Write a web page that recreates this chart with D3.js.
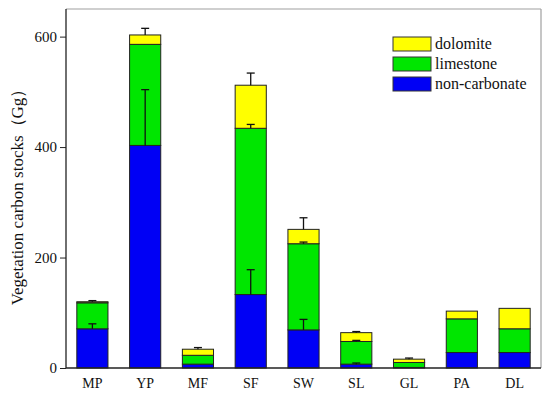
<!DOCTYPE html>
<html>
<head>
<meta charset="utf-8">
<script src="https://cdn.jsdelivr.net/npm/d3@7"></script>
<style>
  body { margin: 0; background: #fff; }
  text { font-family: "Liberation Serif", "Times New Roman", serif; }
</style>
</head>
<body>
<script>
var categories = ["MP","YP","MF","SF","SW","SL","GL","PA","DL"],
    nonCarbonate = [71, 403, 7, 133, 69, 7, 1, 28, 28],
    limestone = [47, 183, 16, 301, 156, 41, 9, 61, 43],
    dolomite = [2, 17, 11, 78, 26, 16, 6, 14, 37],
    errNonCarbonate = [9, 101, 0, 45, 19, 2, 0, 0, 0],
    errLimestone = [0, 0, 0, 7, 3, 2, 0, 0, 0],
    errDolomite = [2, 12, 3, 22, 21, 2, 2, 0, 0],
    yTicks = [0, 200, 400, 600],
    seriesNames = ["non-carbonate", "limestone", "dolomite"],
    colors = ["#0000f5", "#00e600", "#ffff00"];

var width = 550,
    height = 396,
    mLeft = 66, mRight = 541, mTop = 9, mBottom = 368;

var rows = categories.map(function(c, i) {
  return {cat: c, "non-carbonate": nonCarbonate[i], limestone: limestone[i], dolomite: dolomite[i]};
});
var errs = [errNonCarbonate, errLimestone, errDolomite];

var xSc = d3.scaleBand()
  .domain(categories)
  .range([mLeft, mRight])
  .paddingInner(0.41)
  .paddingOuter(0.205);

var ySc = d3.scaleLinear()
  .domain([0, 650])
  .range([mBottom, mTop]);

var stack = d3.stack().keys(seriesNames);
var layers = stack(rows);

var svg = d3.select("body").append("svg")
  .attr("width", width)
  .attr("height", height);

// frame (top and right in grey)
svg.append("line").attr("x1", mLeft).attr("x2", mRight).attr("y1", mTop).attr("y2", mTop)
  .attr("stroke", "#a0a0a0").attr("stroke-width", 1.2);
svg.append("line").attr("x1", mRight).attr("x2", mRight).attr("y1", mTop).attr("y2", mBottom)
  .attr("stroke", "#a0a0a0").attr("stroke-width", 1.2);

svg.selectAll("g.layer")
  .data(layers)
  .enter()
    .append("g")
    .attr("class", "layer")
    .attr("fill", function(d, i) { return colors[i]; })
    .selectAll("rect")
    .data(function(d) { return d; })
    .enter()
      .append("rect")
      .attr("x", function(d) { return xSc(d.data.cat); })
      .attr("y", function(d) { return ySc(d[1]); })
      .attr("width", xSc.bandwidth())
      .attr("height", function(d) { return ySc(d[0]) - ySc(d[1]); })
      .attr("stroke", "#222")
      .attr("stroke-width", 1);

// error bars on top of each segment
layers.forEach(function(layer, k) {
  var g = svg.append("g").attr("stroke", "#111").attr("stroke-width", 1.3);
  layer.forEach(function(d, i) {
    var e = errs[k][i];
    if (!e) return;
    var cx = xSc(d.data.cat) + xSc.bandwidth() / 2;
    g.append("line").attr("x1", cx).attr("x2", cx)
      .attr("y1", ySc(d[1])).attr("y2", ySc(d[1] + e));
    g.append("line").attr("x1", cx - 4).attr("x2", cx + 4)
      .attr("y1", ySc(d[1] + e)).attr("y2", ySc(d[1] + e));
  });
});

// axes
var yAxis = d3.axisLeft(ySc).tickValues(yTicks).tickSize(6).tickPadding(3);
var gy = svg.append("g")
  .attr("transform", "translate(" + mLeft + ",0)")
  .call(yAxis);
gy.select(".domain").attr("d", "M0," + mTop + "V" + mBottom).attr("stroke", "#222").attr("stroke-width", 1.3);
gy.selectAll(".tick line").attr("stroke", "#222");
gy.selectAll("text").attr("font-size", 15).attr("fill", "#111")
  .style("font-family", "'Liberation Serif', serif");

var xAxis = d3.axisBottom(xSc).tickSize(0).tickPadding(10);
var gx = svg.append("g")
  .attr("transform", "translate(0," + mBottom + ")")
  .call(xAxis);
gx.select(".domain").attr("d", "M" + mLeft + ",0H" + mRight).attr("stroke", "#222").attr("stroke-width", 1.3);
gx.selectAll("text").attr("font-size", 14).attr("fill", "#111")
  .style("font-family", "'Liberation Serif', serif");

// y label
svg.append("text")
  .attr("transform", "translate(23,193) rotate(-90)")
  .attr("text-anchor", "middle")
  .attr("font-size", 17)
  .attr("fill", "#111")
  .text("Vegetation carbon stocks（Gg）");

// legend
var legOrder = [2, 1, 0];
var leg = svg.selectAll("g.leg")
  .data(legOrder)
  .enter()
    .append("g")
    .attr("class", "leg")
    .attr("transform", function(d, i) { return "translate(393," + (37 + i * 20) + ")"; });
leg.append("rect")
  .attr("width", 38).attr("height", 14)
  .attr("fill", function(d) { return colors[d]; })
  .attr("stroke", "#333");
leg.append("text")
  .attr("x", 42).attr("y", 12)
  .attr("font-size", 16)
  .attr("fill", "#111")
  .text(function(d) { return seriesNames[d]; });
</script>
</body>
</html>
